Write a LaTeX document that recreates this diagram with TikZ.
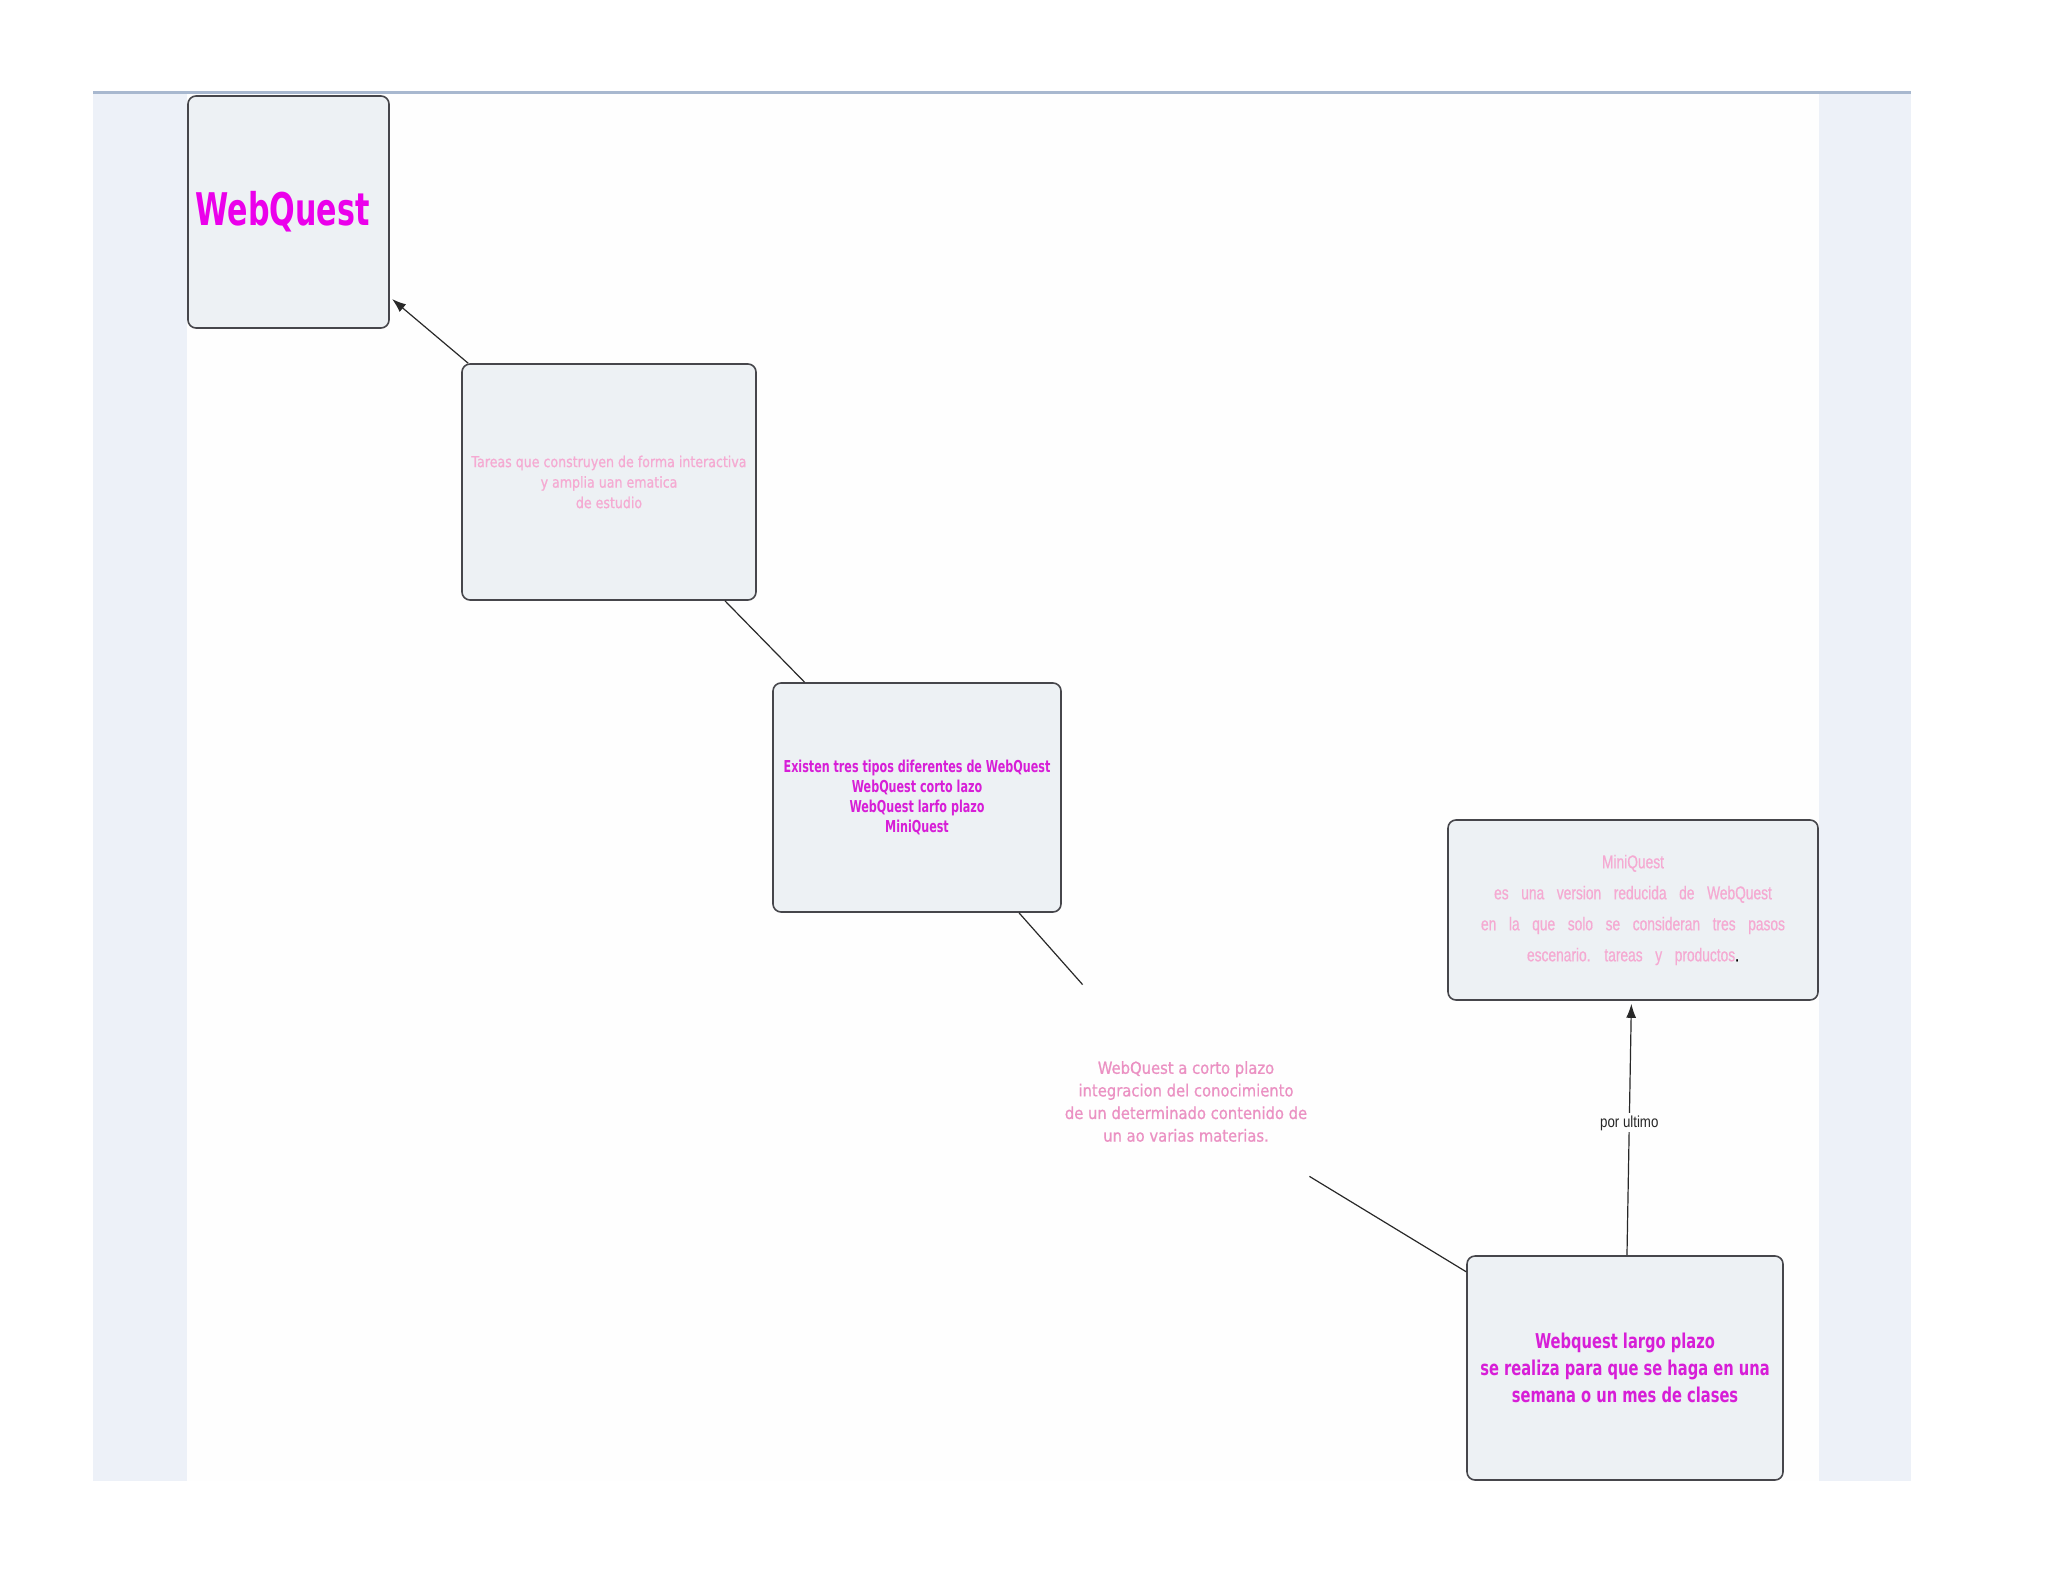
\documentclass[tikz,border=0pt]{standalone}
\usepackage{fontspec}
\usetikzlibrary{arrows.meta}
\newfontfamily\titlefont[FakeStretch=0.67]{DejaVu Sans}
\newfontfamily\exfont[FakeStretch=0.68]{DejaVu Sans}
\newfontfamily\largofont[FakeStretch=0.72]{DejaVu Sans}
\newfontfamily\tarfont[FakeStretch=0.84,FakeBold=0.8]{DejaVu Sans}
\newfontfamily\freefont[FakeStretch=0.89,FakeBold=0.8]{DejaVu Sans}
\newfontfamily\mqfont[FakeStretch=0.74,FakeBold=0.6]{Liberation Sans}
\newfontfamily\lblfont[FakeStretch=0.83]{Liberation Sans}
\definecolor{panel}{RGB}{237,241,248}
\definecolor{innerbg}{RGB}{254,254,254}
\definecolor{topline}{RGB}{168,184,207}
\definecolor{boxfill}{RGB}{237,241,244}
\definecolor{boxline}{RGB}{70,70,75}
\definecolor{lineclr}{RGB}{40,40,40}
\definecolor{magA}{RGB}{235,0,235}
\definecolor{magB}{RGB}{215,30,215}
\definecolor{pinkA}{RGB}{245,170,210}
\definecolor{pinkB}{RGB}{235,145,195}
\tikzset{
  box/.style={rectangle, rounded corners=4pt, draw=boxline, fill=boxfill,
    line width=0.8pt, inner sep=0pt, align=center},
  conn/.style={draw=lineclr, line width=0.6pt},
  tip/.style={-{Latex[length=7pt,width=5pt]}, shorten >=1.5pt},
  lbl/.style={fill=innerbg, inner sep=1pt, text=black!85,
    font={\lblfont\fontsize{8}{9.6}\selectfont}}
}
\begin{document}
\begin{tikzpicture}[x=0.5pt,y=-0.5pt]
\useasboundingbox (0,0) rectangle (2048,1582);
\fill[white] (0,0) rectangle (2048,1582);
\fill[panel] (93,93) rectangle (187,1481);
\fill[panel] (1819,93) rectangle (1911,1481);
\fill[innerbg] (187,93) rectangle (1819,1481);
\draw[topline, line width=1.5pt] (93,93) -- (1911,93);

\node[box, minimum width=100.5pt, minimum height=116pt, text=magA,
  font={\titlefont\bfseries\fontsize{22.5}{27}\selectfont}] (wq) at (288.5,212) {WebQuest\kern6pt};

\node[box, minimum width=147pt, minimum height=118pt, text=pinkA,
  font={\tarfont\fontsize{7.5}{10.25}\selectfont}] (tar) at (609,482)
  {Tareas que construyen de forma interactiva\\y amplia uan ematica\\de estudio};

\node[box, minimum width=144pt, minimum height=114.5pt, text=magB,
  font={\exfont\bfseries\fontsize{8.2}{10}\selectfont}] (ex) at (917,797.5)
  {Existen tres tipos diferentes de WebQuest\\WebQuest corto lazo\\WebQuest larfo plazo\\MiniQuest};

\node[box, minimum width=185pt, minimum height=90pt, text=pinkA,
  font={\mqfont\fontsize{9.3}{15.5}\selectfont\spaceskip=6.3pt\relax}] (mq) at (1633,910)
  {MiniQuest\\es una version reducida de WebQuest\\en la que solo se consideran tres pasos\\escenario. tareas y productos{\color{black}.}};

\node[inner sep=0pt, minimum width=123pt, minimum height=116.5pt, align=center, text=pinkB,
  font={\freefont\fontsize{8.3}{11.3}\selectfont}] (free) at (1186,1101.5)
  {WebQuest a corto plazo\\integracion del conocimiento\\de un determinado contenido de\\un ao varias materias.};

\node[box, minimum width=158pt, minimum height=112pt, text=magB,
  font={\largofont\bfseries\fontsize{10.2}{13.5}\selectfont}] (largo) at (1625,1368)
  {Webquest largo plazo\\se realiza para que se haga en una\\semana o un mes de clases};

\draw[conn, tip] (tar) -- (wq);
\draw[conn] (tar) -- (ex);
\draw[conn] (ex) -- (free);
\draw[conn] (free) -- (largo);
\draw[conn, tip] (largo) -- node[lbl, pos=0.52] {por ultimo} (mq);
\end{tikzpicture}
\end{document}
